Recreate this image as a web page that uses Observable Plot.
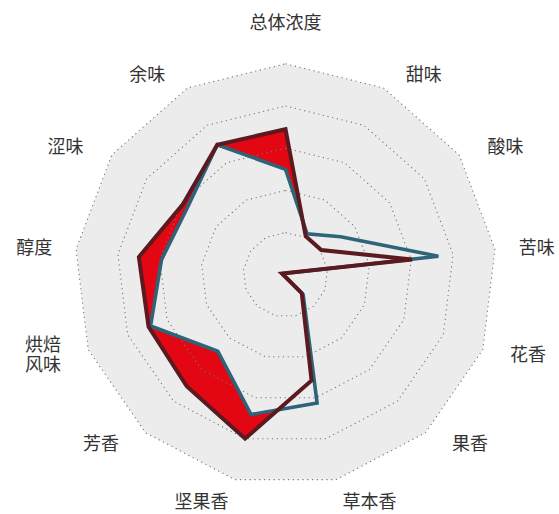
<!DOCTYPE html>
<html><head><meta charset="utf-8">
<script src="https://cdn.jsdelivr.net/npm/d3@7"></script>
<script src="https://cdn.jsdelivr.net/npm/@observablehq/plot@0.6"></script>
<style>body{margin:0;background:#fff}#chart svg{display:block}</style>
</head><body><div id="chart"></div>
<script>
// ---- data ----
const categories = ["总体浓度","甜味","酸味","苦味","花香","果香","草本香","坚果香","芳香","烘焙\n风味","醇度","涩味","余味"];
const seriesDark = [3.45, 1.03, 1.03, 3.02, -0.09, 0.58, 2.58, 4.0, 3.53, 3.47, 3.5, 2.95, 3.48];
const seriesBlue = [2.5, 1.1, 1.59, 3.65, -0.08, 0.63, 3.13, 3.41, 2.42, 3.42, 2.96, 2.82, 3.48];
const gridLevels = [1, 2, 3, 4, 5];

// ---- layout ----
const W = 559, H = 514, CX = 285, CY = 274.3, PX = 42.2;
const n = categories.length;
const maxLevel = d3.max(gridLevels);
const ang = i => i * 2 * Math.PI / n;
const pt = (v, i) => ({x: v * Math.sin(ang(i)), y: v * Math.cos(ang(i))});

const polyDark = seriesDark.map((v, i) => ({...pt(v, i), cat: categories[i]}));
const polyBlue = seriesBlue.map((v, i) => ({...pt(v, i), cat: categories[i]}));
const rings = gridLevels.flatMap(l => categories.map((c, i) => ({...pt(l, i), level: l})));
const outer = categories.map((c, i) => pt(maxLevel, i));
const labels = categories.map((c, i) => {
  const s = Math.sin(ang(i)), co = Math.cos(ang(i));
  const sg = Math.abs(s) < 1e-6 ? 0 : Math.sign(s);
  const lx = 250 * s + 25 * Math.abs(co) * sg;
  const ly = co * 226 + (sg === 0 ? 26 : 0) - (co < -0.9 ? 8 : 0);
  return {x: lx / PX, y: ly / PX, text: c};
});

const chart = Plot.plot({
  width: W, height: H,
  margin: 0,
  x: {domain: [-CX / PX, (W - CX) / PX], range: [0, W], axis: null},
  y: {domain: [-(H - CY) / PX, CY / PX], range: [H, 0], axis: null},
  style: {fontFamily: "'Noto Sans CJK SC', 'Noto Sans', sans-serif", background: "#fff"},
  marks: [
    Plot.line(outer, {x: "x", y: "y", curve: "linear-closed", fill: "#ececec", stroke: "none"}),
    Plot.line(polyDark, {x: "x", y: "y", curve: "linear-closed", fill: "#e30613", stroke: "none"}),
    Plot.line(polyBlue, {x: "x", y: "y", curve: "linear-closed", fill: "#ececec", stroke: "none"}),
    Plot.line(rings, {x: "x", y: "y", z: "level", curve: "linear-closed", stroke: "#777", strokeWidth: 1.1, strokeDasharray: "1.2 3.6", strokeLinecap: "butt"}),
    Plot.line(polyBlue, {x: "x", y: "y", curve: "linear-closed", stroke: "#2e6479", strokeWidth: 3.6, strokeLinejoin: "miter", strokeMiterlimit: 4}),
    Plot.line(polyDark, {x: "x", y: "y", curve: "linear-closed", stroke: "#5a1a1f", strokeWidth: 4, strokeLinejoin: "miter", strokeMiterlimit: 4}),
    Plot.text(labels, {x: "x", y: "y", text: "text", fontSize: 18, fill: "#333", lineHeight: 1.08, fontFamily: "'Noto Sans CJK SC', sans-serif"})
  ]
});
document.getElementById("chart").appendChild(chart);
</script>
</body></html>
